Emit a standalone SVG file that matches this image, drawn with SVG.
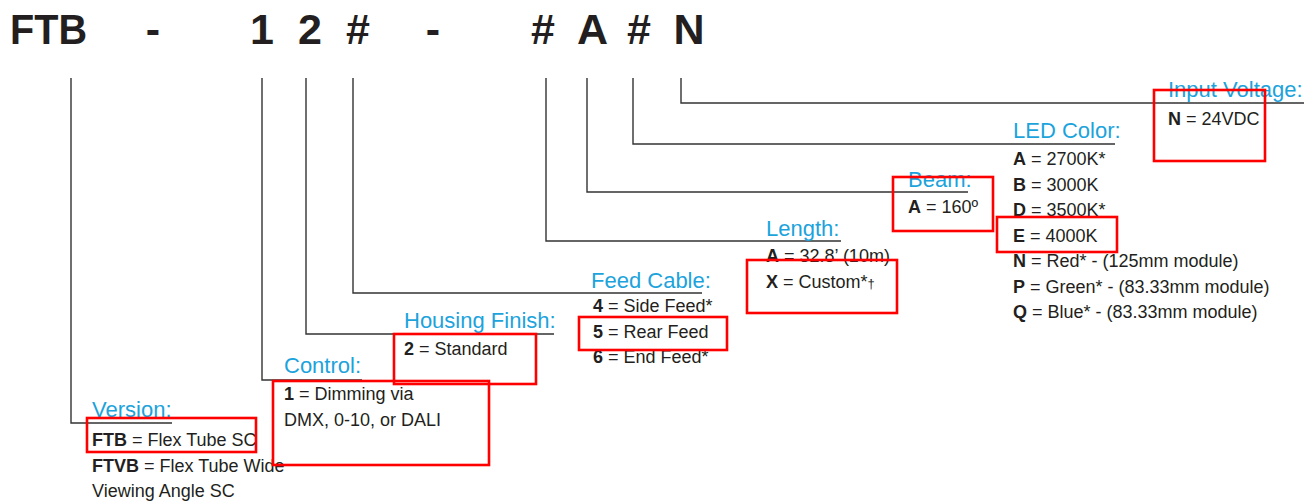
<svg xmlns="http://www.w3.org/2000/svg" width="1316" height="504" viewBox="0 0 1316 504">
<style>
.hd{font-family:"Liberation Sans",Arial,sans-serif;font-weight:bold;font-size:43px;fill:#231f20;text-anchor:middle}
.lb{font-family:"Liberation Sans",Arial,sans-serif;font-size:22px;fill:#1ca3dc}
.tx{font-family:"Liberation Sans",Arial,sans-serif;font-size:18px;fill:#231f20}
.b{font-weight:bold}
.cn{fill:none;stroke:#333;stroke-width:1.4}
.hl{fill:none;stroke:#f00;stroke-width:2.6}
</style>
<rect width="1316" height="504" fill="#fff"/>
<g id="header">
<text class="hd" x="48.5" y="44" textLength="77" lengthAdjust="spacingAndGlyphs">FTB</text>
<text class="hd" x="153" y="44">-</text>
<text class="hd" x="262" y="44">1</text>
<text class="hd" x="310" y="44">2</text>
<text class="hd" x="358" y="44">#</text>
<text class="hd" x="433" y="44">-</text>
<text class="hd" x="543" y="44">#</text>
<text class="hd" x="592.5" y="44">A</text>
<text class="hd" x="639" y="44">#</text>
<text class="hd" x="689" y="44">N</text>
</g>
<g id="connectors">
<path class="cn" d="M71,78 V423 H172"/>
<path class="cn" d="M262,78 V380 H362"/>
<path class="cn" d="M306,78 V334 H554"/>
<path class="cn" d="M353,78 V293 H702"/>
<path class="cn" d="M546,78 V241 H841"/>
<path class="cn" d="M587,78 V192 H968"/>
<path class="cn" d="M633,78 V144 H1115"/>
<path class="cn" d="M681,78 V103 H1304"/>
</g>
<g id="version">
<text class="lb" x="92" y="417">Version:</text>
<text class="tx" x="92" y="446"><tspan class="b">FTB</tspan> = Flex Tube SC</text>
<text class="tx" x="92" y="471.5"><tspan class="b">FTVB</tspan> = Flex Tube Wide</text>
<text class="tx" x="92" y="497">Viewing Angle SC</text>
</g>
<g id="control">
<text class="lb" x="284" y="373">Control:</text>
<text class="tx" x="284" y="400"><tspan class="b">1</tspan> = Dimming via</text>
<text class="tx" x="284" y="425.5">DMX, 0-10, or DALI</text>
</g>
<g id="housing">
<text class="lb" x="404" y="328">Housing Finish:</text>
<text class="tx" x="404" y="355"><tspan class="b">2</tspan> = Standard</text>
</g>
<g id="feed">
<text class="lb" x="591" y="288">Feed Cable:</text>
<text class="tx" x="593" y="312"><tspan class="b">4</tspan> = Side Feed*</text>
<text class="tx" x="593" y="338"><tspan class="b">5</tspan> = Rear Feed</text>
<text class="tx" x="593" y="363"><tspan class="b">6</tspan> = End Feed*</text>
</g>
<g id="length">
<text class="lb" x="766" y="236">Length:</text>
<text class="tx" x="766" y="262"><tspan class="b">A</tspan> = 32.8’ (10m)</text>
<text class="tx" x="766" y="288"><tspan class="b">X</tspan> = Custom*<tspan font-size="13">†</tspan></text>
</g>
<g id="beam">
<text class="lb" x="908" y="187">Beam:</text>
<text class="tx" x="908" y="213"><tspan class="b">A</tspan> = 160º</text>
</g>
<g id="led-color">
<text class="lb" x="1013" y="138">LED Color:</text>
<text class="tx" x="1013" y="165"><tspan class="b">A</tspan> = 2700K*</text>
<text class="tx" x="1013" y="191"><tspan class="b">B</tspan> = 3000K</text>
<text class="tx" x="1013" y="216"><tspan class="b">D</tspan> = 3500K*</text>
<text class="tx" x="1013" y="242"><tspan class="b">E</tspan> = 4000K</text>
<text class="tx" x="1013" y="267"><tspan class="b">N</tspan> = Red* - (125mm module)</text>
<text class="tx" x="1013" y="293"><tspan class="b">P</tspan> = Green* - (83.33mm module)</text>
<text class="tx" x="1013" y="318"><tspan class="b">Q</tspan> = Blue* - (83.33mm module)</text>
</g>
<g id="input-voltage">
<text class="lb" x="1168" y="97">Input Voltage:</text>
<text class="tx" x="1168" y="125"><tspan class="b">N</tspan> = 24VDC</text>
</g>
<g id="highlights">
<rect class="hl" x="87" y="418" width="169" height="34"/>
<rect class="hl" x="273" y="381" width="216" height="84"/>
<rect class="hl" x="394" y="334" width="142" height="50"/>
<rect class="hl" x="579" y="317" width="148" height="33"/>
<rect class="hl" x="747" y="260" width="150" height="53"/>
<rect class="hl" x="893" y="177" width="100" height="54"/>
<rect class="hl" x="997" y="217" width="120" height="35"/>
<rect class="hl" x="1154" y="90" width="111" height="71"/>
</g>
</svg>
